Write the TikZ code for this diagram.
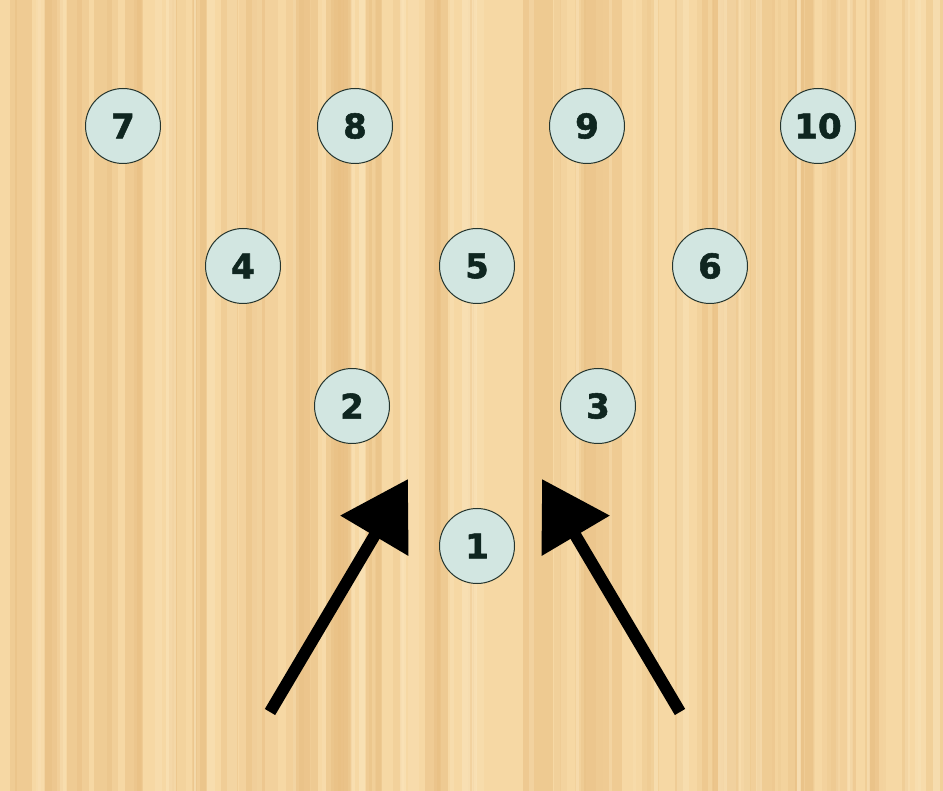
\documentclass[tikz,border=0pt]{standalone}
\usepackage{fontspec}
\setmainfont{DejaVu Sans}
\newfontfamily\pinfont{DejaVu Sans}[BoldFeatures={FakeBold=1.6}]
\usetikzlibrary{arrows.meta}
\definecolor{woodbase}{HTML}{F6D8A4}
\definecolor{wooddark}{HTML}{E8BE82}
\definecolor{woodlight}{HTML}{FBE6BE}
\definecolor{pinfill}{HTML}{D2E6E1}
\definecolor{pinedge}{HTML}{25352E}
\definecolor{pintext}{HTML}{0F2620}
\tikzset{
  pin/.style={circle, draw=pinedge, line width=1pt, fill=pinfill, minimum size=75pt, inner sep=0pt,
    text=pintext, font=\pinfont\fontsize{34}{34}\selectfont\bfseries},
  bigarrow/.style={draw=black, line width=12pt, -{Triangle[length=66pt,width=76pt]}}
}
\begin{document}
\begin{tikzpicture}[x=1pt,y=-1pt]
\useasboundingbox (0,0) rectangle (943,791);
\fill[woodbase] (0,0) rectangle (943,791);
\pgfmathsetseed{12}
\foreach \i in {1,...,80}{
  \pgfmathsetmacro\xx{rnd*943}
  \pgfmathsetmacro\ww{3+rnd*16}
  \pgfmathsetmacro\op{0.15+rnd*0.4}
  \fill[wooddark, opacity=\op] (\xx,0) rectangle ++(\ww,791);
}
\foreach \i in {1,...,40}{
  \pgfmathsetmacro\xx{rnd*943}
  \pgfmathsetmacro\ww{2+rnd*10}
  \pgfmathsetmacro\op{0.2+rnd*0.4}
  \fill[woodlight, opacity=\op] (\xx,0) rectangle ++(\ww,791);
}
% pins
\node[pin] (p7) at (123,126) {7};
\node[pin] (p8) at (355,126) {8};
\node[pin] (p9) at (587,126) {9};
\node[pin] (p10) at (818,126) {10};
\node[pin] (p4) at (243,266) {4};
\node[pin] (p5) at (477,266) {5};
\node[pin] (p6) at (710,266) {6};
\node[pin] (p2) at (352,406) {2};
\node[pin] (p3) at (598,406) {3};
\node[pin] (p1) at (477,546) {1};
% arrows
\coordinate (lstart) at (270,712);
\coordinate (ltip) at (408,479);
\coordinate (rstart) at (680,712);
\coordinate (rtip) at (542,479);
\draw[bigarrow] (lstart) -- (ltip);
\draw[bigarrow] (rstart) -- (rtip);
\end{tikzpicture}
\end{document}
